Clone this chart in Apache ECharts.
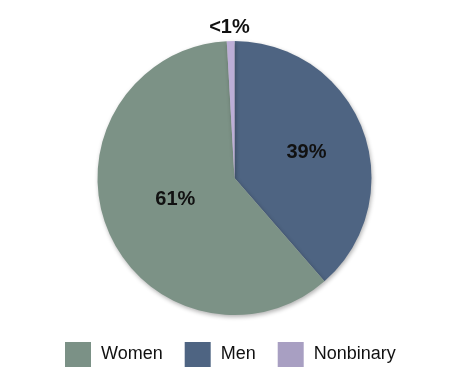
<!DOCTYPE html>
<html>
<head>
<meta charset="utf-8">
<script src="https://cdn.jsdelivr.net/npm/echarts@6/dist/echarts.min.js"></script>
<style>html,body{margin:0;padding:0;background:#fff;}#c{width:468px;height:378px;}</style>
</head>
<body>
<div id="c"></div>
<script>
const categories = ['Men', 'Women', 'Nonbinary'];
const values = [38.6, 60.5, 0.9];
const labelTexts = ['39%', '61%', '<1%'];
const legendOrder = ['Women', 'Men', 'Nonbinary'];
const colors = ['#4e6482', '#7c9286', '#bcaed6'];
const legendColors = ['#7b9186', '#4e6482', '#a89fc2'];
const labelOffsets = [[5, 0], [7, -5], [-3, -79]];

const chart = echarts.init(document.getElementById('c'));
const data = categories.map((name, i) => ({
  name: name,
  value: values[i],
  itemStyle: { color: colors[i] },
  label: { offset: labelOffsets[i] }
}));
chart.setOption({
  animation: false,
  legend: {
    data: legendOrder.map((n, i) => ({ name: n, itemStyle: { color: legendColors[i] } })),
    top: 342,
    left: 65,
    padding: 0,
    itemWidth: 26,
    itemHeight: 25,
    itemGap: 22,
    icon: 'rect',
    textStyle: { fontFamily: 'Liberation Sans', fontSize: 18, color: '#111', padding: [0, 0, 0, 5] }
  },
  series: [{
    type: 'pie',
    center: [234.5, 178],
    radius: 137,
    startAngle: 90,
    clockwise: true,
    data: data,
    itemStyle: { shadowBlur: 4, shadowColor: 'rgba(0,0,0,0.3)', shadowOffsetX: 1, shadowOffsetY: 2 },
    label: {
      show: true,
      position: 'inside',
      formatter: p => labelTexts[p.dataIndex],
      fontFamily: 'Liberation Sans',
      fontWeight: 'bold',
      fontSize: 20,
      color: '#111'
    },
    labelLine: { show: false }
  }]
});
</script>
</body>
</html>
